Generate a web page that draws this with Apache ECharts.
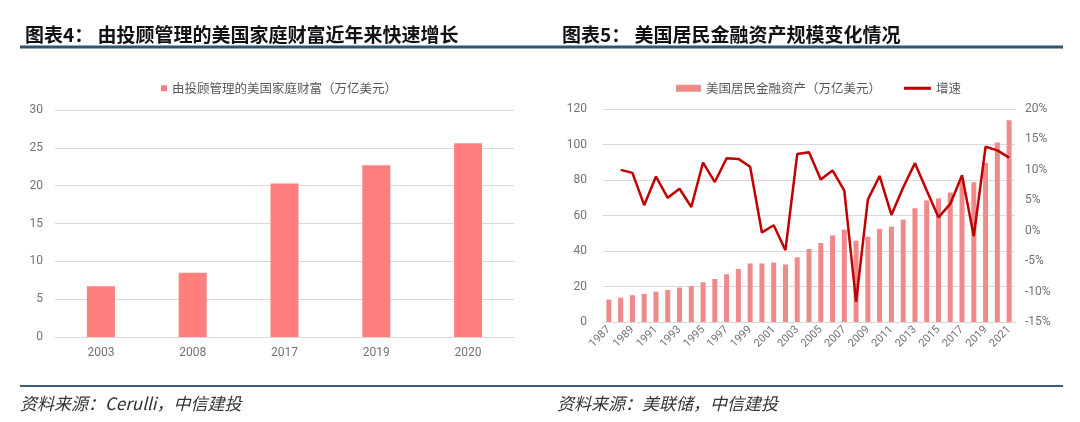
<!DOCTYPE html>
<html>
<head>
<meta charset="utf-8">
<script src="https://cdn.jsdelivr.net/npm/echarts@6/dist/echarts.min.js"></script>
<style>
html,body{margin:0;padding:0;background:#fff;}
#c{width:1080px;height:422px;}
</style>
</head>
<body>
<div id="c"></div>
<script>
// Chart 4 data
const cat4 = ['2003', '2008', '2017', '2019', '2020'];
const wealth4 = [6.7, 8.5, 20.3, 22.7, 25.6];
const name4 = '由投顾管理的美国家庭财富（万亿美元）';

// Chart 5 data
const years5 = ['1987','1988','1989','1990','1991','1992','1993','1994','1995','1996','1997','1998','1999','2000','2001','2002','2003','2004','2005','2006','2007','2008','2009','2010','2011','2012','2013','2014','2015','2016','2017','2018','2019','2020','2021'];
const assets5 = [12.6, 13.7, 15.1, 15.8, 17.1, 18.1, 19.4, 20.2, 22.4, 24.2, 26.9, 29.9, 33.0, 33.0, 33.5, 32.4, 36.4, 41.1, 44.5, 48.8, 52.0, 45.8, 48.0, 52.4, 53.7, 57.7, 64.1, 68.5, 69.6, 72.9, 79.5, 78.8, 89.6, 101.1, 113.6];
const growth5 = [null, 10.0, 9.5, 4.2, 8.9, 5.4, 6.9, 3.9, 11.2, 8.0, 11.9, 11.8, 10.5, -0.3, 0.9, -3.2, 12.6, 12.9, 8.4, 9.9, 6.6, -11.7, 5.1, 9.0, 2.6, 7.1, 11.1, 6.6, 2.2, 4.4, 9.1, -0.9, 13.8, 13.2, 12.0];
const name5a = '美国居民金融资产（万亿美元）';
const name5b = '增速';

const FONT = '"Noto Sans CJK SC", "Noto Sans", sans-serif';
const LABEL = '#737373';
const GRID = '#d9d9d9';

const chart = echarts.init(document.getElementById('c'), null, {renderer: 'canvas'});
chart.setOption({
  animation: false,
  backgroundColor: '#ffffff',
  textStyle: {fontFamily: FONT},
  title: [
    {text: '图表4： 由投顾管理的美国家庭财富近年来快速增长', left: 20, top: 20,
     textStyle: {fontSize: 19, fontWeight: 'bold', color: '#111111', fontFamily: FONT}},
    {text: '图表5： 美国居民金融资产规模变化情况', left: 557, top: 20,
     textStyle: {fontSize: 19, fontWeight: 'bold', color: '#111111', fontFamily: FONT}}
  ],
  graphic: [
    {type: 'line', shape: {x1: 20, y1: 47, x2: 1063, y2: 47}, style: {stroke: '#2d5672', lineWidth: 3}},
    {type: 'line', shape: {x1: 20, y1: 386, x2: 1063, y2: 386}, style: {stroke: '#3a6079', lineWidth: 2}},
    {type: 'text', left: 20, top: 395, style: {text: '资料来源：Cerulli，中信建投', font: 'italic 17px ' + FONT, fill: '#333333'}},
    {type: 'text', left: 557, top: 395, style: {text: '资料来源：美联储，中信建投', font: 'italic 17px ' + FONT, fill: '#333333'}}
  ],
  legend: [
    {data: [name4], left: 156, top: 77, itemWidth: 6, itemHeight: 6, icon: 'rect',
     textStyle: {fontSize: 12.5, color: '#595959', fontFamily: FONT}},
    {data: [name5a], left: 671, top: 77, itemWidth: 25, itemHeight: 7, icon: 'rect',
     textStyle: {fontSize: 12.5, color: '#595959', fontFamily: FONT}},
    {data: [name5b], left: 899, top: 77, itemWidth: 27, itemHeight: 3, icon: 'rect',
     textStyle: {fontSize: 12.5, color: '#595959', fontFamily: FONT}}
  ],
  grid: [
    {left: 55, top: 110, width: 459, height: 227},
    {left: 603, top: 109, width: 412, height: 213}
  ],
  xAxis: [
    {type: 'category', gridIndex: 0, data: cat4, boundaryGap: true,
     axisLine: {lineStyle: {color: GRID}}, axisTick: {show: false},
     axisLabel: {color: LABEL, fontSize: 12, margin: 10, fontFamily: 'Roboto, sans-serif'}},
    {type: 'category', gridIndex: 1, data: years5, boundaryGap: true,
     axisLine: {lineStyle: {color: GRID}}, axisTick: {show: false},
     axisLabel: {color: LABEL, fontSize: 11, rotate: 45, interval: 1, margin: 6, fontFamily: 'Roboto, sans-serif'}}
  ],
  yAxis: [
    {type: 'value', gridIndex: 0, min: 0, max: 30, interval: 5,
     axisLine: {show: false}, axisTick: {show: false},
     splitLine: {lineStyle: {color: GRID, width: 1}},
     axisLabel: {color: LABEL, fontSize: 12, margin: 12, fontFamily: 'Roboto, sans-serif'}},
    {type: 'value', gridIndex: 1, min: 0, max: 120, interval: 20,
     axisLine: {show: false}, axisTick: {show: false},
     splitLine: {lineStyle: {color: GRID, width: 1}},
     axisLabel: {color: LABEL, fontSize: 12, margin: 16, fontFamily: 'Roboto, sans-serif'}},
    {type: 'value', gridIndex: 1, min: -15, max: 20, interval: 5, position: 'right',
     axisLine: {show: false}, axisTick: {show: false}, splitLine: {show: false},
     axisLabel: {color: LABEL, fontSize: 12, margin: 10, formatter: '{value}%', fontFamily: 'Roboto, sans-serif'}}
  ],
  series: [
    {name: name4, type: 'bar', xAxisIndex: 0, yAxisIndex: 0, data: wealth4,
     barWidth: 28, itemStyle: {color: '#ff7f7f'}},
    {name: name5a, type: 'bar', xAxisIndex: 1, yAxisIndex: 1, data: assets5,
     barWidth: 5, itemStyle: {color: '#ee8a8a'}},
    {name: name5b, type: 'line', xAxisIndex: 1, yAxisIndex: 2, data: growth5,
     symbol: 'none', lineStyle: {color: '#c00000', width: 2.5}, itemStyle: {color: '#c00000'}}
  ]
});
</script>
</body>
</html>
